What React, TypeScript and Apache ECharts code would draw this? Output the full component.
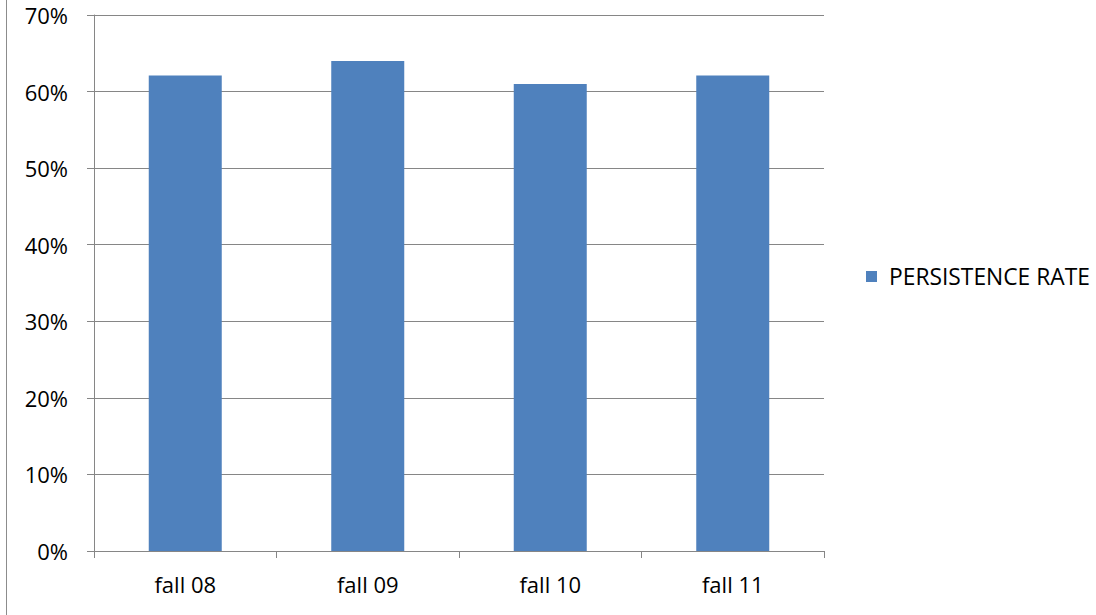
import React, { useEffect, useRef } from "react";
import * as echarts from "echarts";

const categories = ["fall 08", "fall 09", "fall 10", "fall 11"];
const persistenceRate = [62.1, 64.0, 61.0, 62.1];
const seriesName = "PERSISTENCE RATE";

export default function App() {
  const ref = useRef<HTMLDivElement>(null);
  useEffect(() => {
    if (!ref.current) return;
    const chart = echarts.init(ref.current, undefined, { renderer: "svg" });
    const font = "Open Sans";
    chart.setOption({
      animation: false,
      backgroundColor: "#ffffff",
      grid: { left: 94, right: 272, top: 15, bottom: 64, containLabel: false },
      legend: {
        data: [{ name: seriesName, icon: "rect" }],
        orient: "vertical",
        left: 866,
        top: 265,
        padding: 0,
        itemWidth: 11,
        itemHeight: 11,
        itemGap: 10,
        textStyle: { color: "#000000", fontSize: 22.8, fontFamily: font, padding: [0, 0, 0, 7] },
      },
      xAxis: {
        type: "category",
        data: categories,
        axisLine: { show: true, lineStyle: { color: "#868686", width: 1 } },
        axisTick: { show: true, alignWithLabel: false, length: 7, lineStyle: { color: "#868686" } },
        axisLabel: { color: "#000000", fontSize: 22, fontFamily: font, margin: 22 },
        splitLine: { show: false },
      },
      yAxis: {
        type: "value",
        min: 0,
        max: 70,
        interval: 10,
        axisLine: { show: true, lineStyle: { color: "#868686", width: 1 } },
        axisTick: { show: true, length: 7, lineStyle: { color: "#868686" } },
        axisLabel: { color: "#000000", fontSize: 22, fontFamily: font, margin: 26, formatter: "{value}%" },
        splitLine: { show: true, lineStyle: { color: "#868686", width: 1 } },
      },
      series: [
        {
          name: seriesName,
          type: "bar",
          data: persistenceRate,
          barWidth: "40%",
          itemStyle: { color: "#4F81BD" },
        },
      ],
      graphic: [
        {
          type: "line",
          shape: { x1: 6.5, y1: 0, x2: 6.5, y2: 615 },
          style: { stroke: "#8c8c8c", lineWidth: 1 },
        },
      ],
    });
    return () => chart.dispose();
  }, []);
  return (
    <div
      ref={ref}
      style={{ position: "fixed", left: 0, top: 0, width: 1096, height: 615 }}
    />
  );
}
